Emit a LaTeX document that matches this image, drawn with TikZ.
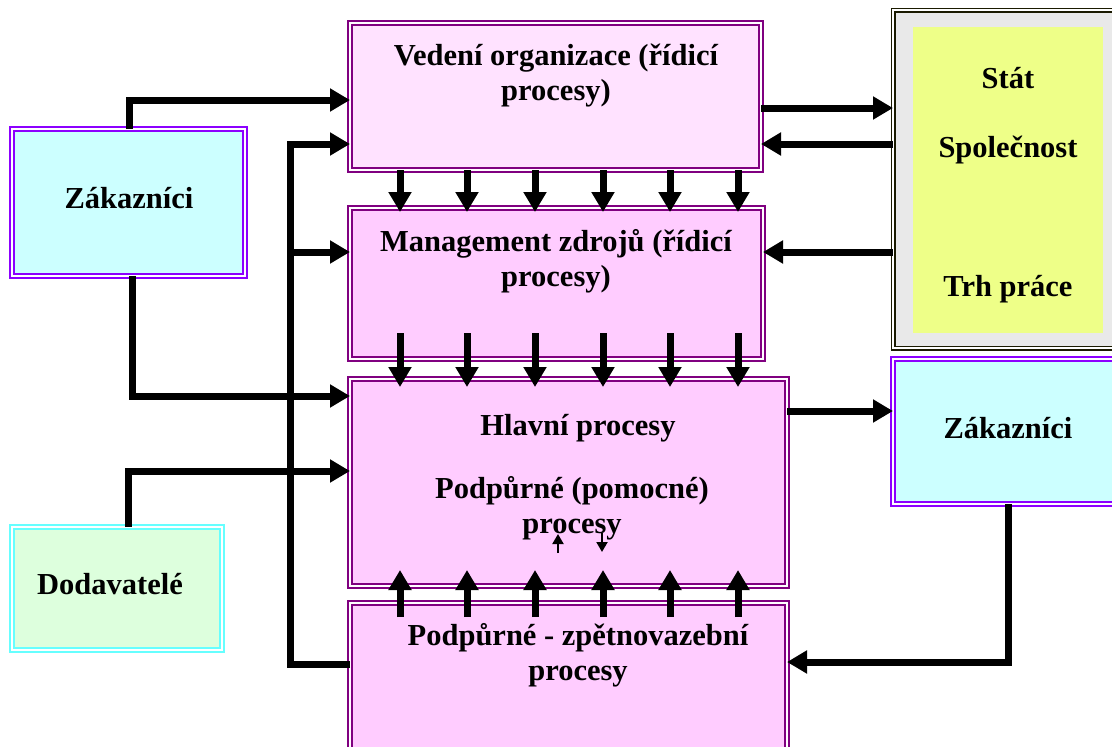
\documentclass[tikz,border=0pt]{standalone}
\usepackage{fontspec}
\setmainfont{Liberation Serif}
\usetikzlibrary{arrows.meta}
\definecolor{procborder}{HTML}{800080}
\definecolor{procfill}{HTML}{FFCCFF}
\definecolor{procfilltop}{HTML}{FFE2FF}
\definecolor{custborder}{HTML}{8C00FF}
\definecolor{custfill}{HTML}{CCFFFF}
\definecolor{supborder}{HTML}{66FFFF}
\definecolor{supfill}{HTML}{DDFFDD}
\definecolor{statborder}{HTML}{1A1A00}
\definecolor{statframe}{HTML}{E9E9E9}
\definecolor{statfill}{HTML}{EEFF88}
\begin{document}
\begin{tikzpicture}[x=1pt,y=-1pt,
  box/.style={anchor=north west, inner sep=0pt, outer sep=0pt, line width=2.1pt, double=white, double distance=1.3pt},
  procbox/.style={box, draw=procborder, fill=procfill},
  custbox/.style={box, draw=custborder, fill=custfill},
  supbox/.style={box, draw=supborder, fill=supfill},
  statbox/.style={box, draw=statborder, line width=1.5pt, double=white, double distance=2pt, fill=statframe},
  lbl/.style={font=\fontsize{30.5}{35}\selectfont\bfseries, align=center, inner sep=0pt},
  flow/.style={line width=7pt, -{Triangle[width=22pt,length=20pt]}, line join=miter},
  tinyflow/.style={line width=2pt, -{Triangle[width=11pt,length=10pt]}}
]
\useasboundingbox (0,0) rectangle (1112,747);
\fill[white] (0,0) rectangle (1112,747);
\clip (0,0) rectangle (1112,747);

% boxes
\node[procbox, fill=procfilltop, minimum width=411pt, minimum height=147pt] (vedeni) at (350,23) {};
\node[procbox, minimum width=413pt, minimum height=151pt] (mgmt) at (350,208) {};
\node[procbox, minimum width=437pt, minimum height=207pt] (hlavni) at (350,379) {};
\node[procbox, minimum width=437pt, minimum height=160pt] (zpet) at (350,603) {};
\node[statbox, minimum width=240pt, minimum height=338pt] (stat) at (893,10) {};
\node[anchor=north west, inner sep=0pt, fill=statfill, minimum width=190pt, minimum height=306pt] (statin) at (913,27) {};
\node[custbox, minimum width=233pt, minimum height=147pt] (zakL) at (12,129) {};
\node[custbox, minimum width=240pt, minimum height=145pt] (zakR) at (893,359) {};
\node[supbox, minimum width=210pt, minimum height=123pt] (dod) at (12,527) {};

% connectors on the left
\coordinate (fbtop) at (290,144);
\coordinate (fbmid) at (290,252);
\coordinate (fbbot) at (290,664);
\draw[flow] (zakL.north -| 129,0) |- (vedeni.west |- 0,100);
\draw[flow] (zpet.west |- fbbot) -- (fbbot) -- (fbtop) -- (vedeni.west |- fbtop);
\draw[flow] (fbmid) -- (mgmt.west |- fbmid);
\draw[flow] (zakL.south -| 132,0) |- (hlavni.west |- 0,396);
\draw[flow] (dod.north -| 128,0) |- (hlavni.west |- 0,471);

% connectors on the right
\draw[flow] (vedeni.east |- 0,108) -- (stat.west |- 0,108);
\draw[flow] (stat.west |- 0,144) -- (vedeni.east |- 0,144);
\draw[flow] (stat.west |- 0,252) -- (mgmt.east |- 0,252);
\draw[flow] (hlavni.east |- 0,411) -- (zakR.west |- 0,411);
\draw[flow] (zakR.south -| 1008,0) |- (zpet.east |- 0,662);

% vertical arrows between the boxes
\foreach \x in {400,467,535,603,670,738} {
  \draw[flow, shorten >=-4pt] (vedeni.south -| \x,0) -- (mgmt.north -| \x,0);
  \draw[flow, shorten <=-26pt, shorten >=-8pt] (mgmt.south -| \x,0) -- (hlavni.north -| \x,0);
  \draw[flow, shorten <=-14pt, shorten >=-16pt] (zpet.north -| \x,0) -- (hlavni.south -| \x,0);
}

% small arrows
\coordinate (sa1) at (558,553);
\coordinate (sa2) at (558,534);
\coordinate (sb1) at (602,533);
\coordinate (sb2) at (602,552);
\draw[tinyflow] (sa1) -- (sa2);
\draw[tinyflow] (sb1) -- (sb2);

% texts
\node[lbl] (tvedeni) at (556,76) {Vedení organizace (řídicí\\procesy)};
\node[lbl] (tmgmt) at (556,261) {Management zdrojů (řídicí\\procesy)};
\node[lbl] (thlavni) at (578,428) {Hlavní procesy};
\node[lbl] (tpodp) at (572,508) {Podpůrné (pomocné)\\procesy};
\node[lbl] (tzpet) at (578,655) {Podpůrné - zpětnovazební\\procesy};
\node[lbl] (tstat) at (1008,78) {Stát};
\node[lbl] (tspol) at (1008,150) {Společnost};
\node[lbl] (ttrh) at (1008,289) {Trh práce};
\node[lbl] (tzakL) at (129,198) {Zákazníci};
\node[lbl] (tzakR) at (1008,428) {Zákazníci};
\node[lbl] (tdod) at (110,584) {Dodavatelé};
\end{tikzpicture}
\end{document}
